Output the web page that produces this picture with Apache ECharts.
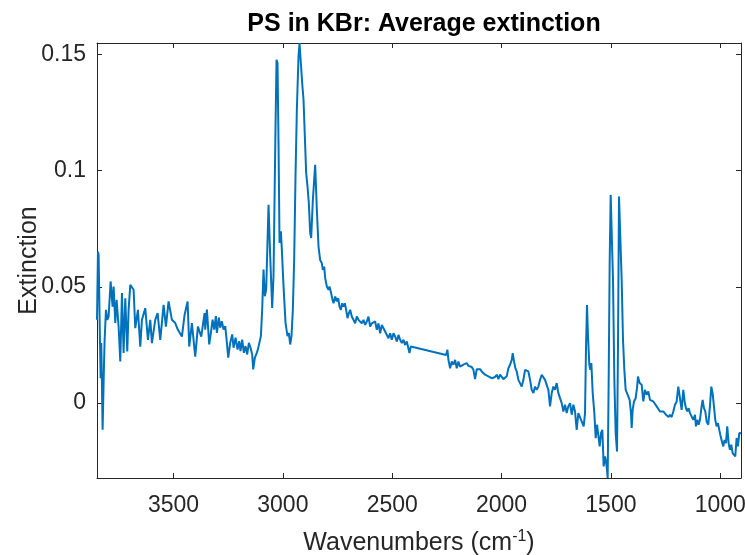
<!DOCTYPE html>
<html>
<head>
<meta charset="utf-8">
<script src="https://cdn.jsdelivr.net/npm/echarts@6/dist/echarts.min.js"></script>
<style>
html,body{margin:0;padding:0;background:#fff;}
#chart{width:745px;height:555px;}
</style>
</head>
<body>
<div id="chart"></div>
<script>
// Wavenumbers (cm^-1), high to low
const wavenumbers = [
3850,3845.6,3842.6,3836.5,3833.4,3830.4,3824.3,3818.2,3815.1,3809.0,3803.0,3796.9,3787.7,3778.6,3774.0,3766.4,3760.3,3751.2,3743.5,3735.9,
3728.3,3720.7,3711.6,3705.5,3697.8,3682.6,3675.0,3662.8,3652.1,3644.5,3629.3,3617.1,3606.4,3598.8,3583.6,3572.9,3560.7,3545.5,3534.8,3522.7,
3507.4,3492.2,3480.0,3461.7,3449.5,3435.8,3428.2,3416.0,3400.8,3388.6,3373.3,3358.1,
3355.0,3347.4,3336.8,3329.1,3321.5,3313.9,3306.3,3301.7,3292.6,3286.5,3278.9,3271.3,3263.6,3256.0,3249.9,3240.8,3231.7,3225.6,3216.4,3207.3,
3199.7,3193.6,3186.0,3178.3,3170.7,3163.1,3155.5,3147.9,3140.3,3135.7,3128.1,3122.0,3114.4,3106.7,3100.6,3094.6,3088.5,3082.4,3076.3,3065.6,
3058.0,3048.9,3042.8,3033.6,3029.0,3024.5,3019.9,3015.3,3009.2,3004.7,2997.0,2987.9,2978.8,2972.7,2966.6,2960.5,2954.4,2948.3,2942.2,2936.1,
2928.5,2923.9,2917.8,2911.7,2905.6,2899.6,2893.5,2887.4,2881.3,2875.2,2870.6,
2862.9,2852.3,2844.6,2837.0,2829.4,2821.8,2817.2,2811.1,2806.5,2798.9,2791.3,2786.7,2780.6,2774.6,2768.5,2760.8,2753.2,2747.1,2741.0,2734.9,
2728.9,2722.8,2716.7,2710.6,2704.5,2698.4,2692.3,2684.7,2677.1,2669.4,2661.8,2654.2,2646.6,2639.0,2631.4,2623.7,2616.1,2608.5,2600.9,2593.3,
2585.6,2578.0,2570.4,2562.8,2555.2,2547.6,2539.9,2532.3,2524.7,2517.1,2509.5,2501.8,2494.2,2486.6,2479.0,2471.4,2463.7,2456.1,2448.5,2440.9,
2433.3,2425.7,2421.1,2415.0,2410.5,
2253.6,2247.5,2242.9,2235.3,2227.7,2220.1,2212.4,2204.8,2197.2,2189.6,2182.0,2174.4,2166.7,2159.1,2151.5,2143.9,2136.3,2128.6,2121.0,2113.4,
2105.8,2098.2,2090.5,2082.9,2075.3,2067.7,2060.1,2052.5,2044.8,2037.2,2029.6,2022.0,2014.4,2006.8,1999.1,1991.5,1983.9,1976.3,1968.7,1961.0,
1953.4,1948.9,1942.8,1936.7,1930.6,1923.0,1915.4,1907.7,1900.1,1892.5,1884.9,1877.3,1869.6,1862.0,1854.4,1846.8,1839.2,1831.6,1823.9,1816.3,
1808.7,1801.1,1793.5,1785.9,1778.3,1770.6,1763.0,1755.4,1747.8,1740.2,1732.5,1724.9,1717.3,1709.7,1702.1,1694.5,1686.8,1679.2,1671.6,1664.0,
1656.4,1648.8,1641.1,
1624.4,1618.3,1613.7,1609.2,1604.6,1598.5,1593.9,1589.3,1583.2,1575.6,1569.5,1563.4,1557.4,1551.3,1545.2,1539.1,1533.0,1526.9,1522.3,1517.8,
1514.7,1510.1,1505.6,1501.0,1494.9,1490.3,1484.2,1478.1,1472.0,1467.5,1462.9,1456.8,1450.7,1444.6,1438.5,1432.4,1426.3,1420.3,1414.2,1408.1,
1405.0,1400.4,1394.3,1386.7,1380.6,1376.1,1368.5,1362.4,
1359.3,1351.7,1344.1,1336.4,1328.8,1321.2,1313.6,1306.0,1298.3,1290.7,1283.1,1275.5,1267.9,1260.3,1252.6,1248.1,1242.0,1235.9,1229.8,1222.2,
1214.6,1206.9,1199.3,1191.7,1184.1,1176.5,1168.9,1162.8,1156.7,1150.6,1144.5,1138.4,1130.8,1123.2,1115.5,1111.0,1104.9,1098.8,1092.7,1085.1,
1080.5,1074.4,1068.3,1062.2,1054.6,1047.0,1040.9,1034.8,1028.7,1022.6,1016.5,1010.4,1004.3,998.2,992.1,986.0,980.0,973.9,967.8,961.7,
955.6,949.5,943.4,937.3,931.2,925.1,919.0,912.9,905
];
// Average extinction at each wavenumber
const extinction = [
0.0358,0.0651,0.0637,0.0272,0.0107,0.0258,-0.0115,0.0157,0.0272,0.0401,0.0358,0.0372,0.0523,0.0415,0.0501,0.0344,0.0444,0.0329,0.0179,0.0473,
0.0215,0.0451,0.0222,0.0401,0.0508,0.0487,0.0322,0.0401,0.0243,0.0358,0.0408,0.0272,0.0358,0.0258,0.0358,0.0387,0.0272,0.0422,0.0329,0.0437,
0.0358,0.0344,0.0315,0.0286,0.0379,0.0437,0.0243,0.0344,0.0200,0.0329,0.0286,0.0387,
0.0316,0.0402,0.0252,0.0302,0.0359,0.0316,0.0374,0.0302,0.0367,0.0324,0.0352,0.0316,0.0331,0.0259,0.0195,0.0259,0.0295,0.0238,0.0281,0.0230,
0.0266,0.0223,0.0273,0.0216,0.0245,0.0209,0.0259,0.0238,0.0209,0.0145,0.0195,0.0209,0.0230,0.0238,0.0288,0.0402,0.0574,0.0459,0.0488,0.0853,
0.0631,0.0409,0.0545,0.1190,0.1476,0.1462,0.1118,0.0689,0.0739,0.0660,0.0503,0.0345,0.0288,0.0302,0.0252,0.0288,0.0402,0.0617,0.0975,0.1261,
0.1490,0.1548,0.1462,0.1376,0.1304,0.1147,0.0989,0.0932,0.0860,0.0732,0.0710,
0.0873,0.1024,0.0830,0.0673,0.0615,0.0601,0.0573,0.0587,0.0537,0.0501,0.0487,0.0501,0.0479,0.0451,0.0429,0.0458,0.0437,0.0451,0.0415,0.0401,
0.0429,0.0415,0.0429,0.0401,0.0365,0.0386,0.0401,0.0372,0.0379,0.0343,0.0372,0.0358,0.0365,0.0343,0.0358,0.0336,0.0351,0.0372,0.0329,0.0343,
0.0336,0.0351,0.0315,0.0343,0.0300,0.0336,0.0343,0.0308,0.0315,0.0279,0.0300,0.0272,0.0300,0.0286,0.0265,0.0293,0.0272,0.0258,0.0272,0.0250,
0.0265,0.0258,0.0215,0.0243,0.0243,
0.0207,0.0229,0.0186,0.0150,0.0179,0.0165,0.0186,0.0150,0.0179,0.0157,0.0150,0.0165,0.0157,0.0172,0.0160,0.0165,0.0155,0.0143,0.0103,0.0146,
0.0150,0.0146,0.0136,0.0143,0.0122,0.0129,0.0115,0.0117,0.0107,0.0115,0.0112,0.0122,0.0103,0.0122,0.0115,0.0103,0.0100,0.0115,0.0150,0.0165,
0.0186,0.0215,0.0179,0.0150,0.0136,0.0100,0.0093,0.0071,0.0100,0.0143,0.0150,0.0136,0.0100,0.0057,0.0043,0.0071,0.0057,0.0071,0.0100,0.0122,
0.0129,0.0100,0.0107,0.0057,-0.0014,0.0043,0.0071,0.0057,0.0086,0.0043,0.0036,0.0000,-0.0036,-0.0007,-0.0043,-0.0014,0.0000,-0.0050,-0.0007,-0.0036,
-0.0115,-0.0043,-0.0036,
-0.0100,-0.0043,0.0243,0.0422,0.0286,0.0164,0.0143,0.0172,0.0043,-0.0043,-0.0151,-0.0093,-0.0086,-0.0186,-0.0129,-0.0115,-0.0272,-0.0229,-0.0251,-0.0287,
-0.0322,0.0100,0.0601,0.0895,0.0888,0.0530,0.0100,-0.0129,-0.0208,0.0243,0.0888,0.0881,0.0530,0.0272,0.0143,0.0057,0.0043,0.0050,0.0014,-0.0043,
-0.0107,-0.0029,0.0007,0.0021,0.0064,0.0114,0.0086,0.0093,
0.0079,0.0007,0.0057,0.0036,0.0050,0.0014,0.0021,0.0007,0.0000,-0.0014,-0.0012,-0.0036,-0.0043,-0.0036,-0.0032,-0.0050,-0.0046,-0.0060,-0.0050,-0.0060,
-0.0036,-0.0007,0.0007,0.0071,0.0021,-0.0029,0.0057,0.0007,-0.0022,-0.0036,-0.0022,-0.0043,-0.0050,-0.0072,-0.0050,-0.0100,-0.0072,-0.0093,-0.0072,-0.0014,
0.0014,-0.0022,-0.0036,-0.0079,-0.0093,-0.0014,0.0071,0.0043,-0.0014,-0.0072,-0.0100,-0.0086,-0.0115,-0.0143,-0.0165,-0.0186,-0.0158,-0.0172,-0.0100,-0.0172,
-0.0201,-0.0179,-0.0215,-0.0222,-0.0229,-0.0150,-0.0186,-0.0129,-0.0130
];
const xRange = [905, 3850];
const yRange = [-0.0322, 0.1548];
const titleText = 'PS in KBr: Average extinction';
const yName = 'Extinction';

const points = wavenumbers.map((w, i) => [w, extinction[i]]);
const FONT = '"Liberation Sans", Arial, Helvetica, sans-serif';
const AX = '#262626';

const chart = echarts.init(document.getElementById('chart'), null, {renderer: 'canvas'});
const baseX = {
  type: 'value', inverse: true, min: xRange[0], max: xRange[1], splitNumber: 5,
  axisLine: {show: true, onZero: false, lineStyle: {color: AX, width: 1}},
  axisTick: {show: true, inside: true, length: 5, lineStyle: {color: AX}},
  splitLine: {show: false}
};
const baseY = {
  type: 'value', min: yRange[0], max: yRange[1], splitNumber: 4,
  axisLine: {show: true, onZero: false, lineStyle: {color: AX, width: 1}},
  axisTick: {show: true, inside: true, length: 5, lineStyle: {color: AX}},
  splitLine: {show: false}
};
chart.setOption({
  animation: false,
  backgroundColor: '#fff',
  title: {
    text: titleText, left: 419, top: 7, textAlign: 'center',
    textStyle: {fontFamily: FONT, fontSize: 25, fontWeight: 'bold', color: '#000'}
  },
  grid: {left: 97, right: 4, top: 43, bottom: 77, containLabel: false, outerBoundsMode: 'none'},
  xAxis: [
    Object.assign({}, baseX, {
      position: 'bottom',
      axisLabel: {show: true, showMinLabel: false, showMaxLabel: false, margin: 16,
        color: AX, fontFamily: FONT, fontSize: 23, formatter: v => String(v)},
      name: 'Wavenumbers (cm{sup|-1})', nameLocation: 'middle', nameGap: 51, nameMoveOverlap: false,
      nameTextStyle: {fontFamily: FONT, fontSize: 25, color: AX,
        rich: {sup: {fontFamily: FONT, fontSize: 16, color: AX, verticalAlign: 'top', padding: [0, 0, 12, 0]}}}
    }),
    Object.assign({}, baseX, {position: 'top', axisLabel: {show: false}})
  ],
  yAxis: [
    Object.assign({}, baseY, {
      position: 'left',
      axisLabel: {show: true, showMinLabel: false, showMaxLabel: false, margin: 11,
        color: AX, fontFamily: FONT, fontSize: 23, formatter: v => String(+v.toFixed(4))},
      name: yName, nameLocation: 'middle', nameGap: 55, nameRotate: 90, nameMoveOverlap: false,
      nameTextStyle: {fontFamily: FONT, fontSize: 25, color: AX}
    }),
    Object.assign({}, baseY, {position: 'right', axisLabel: {show: false}})
  ],
  series: [{
    type: 'line', xAxisIndex: 0, yAxisIndex: 0, data: points,
    showSymbol: false, symbol: 'none',
    lineStyle: {color: '#0072BD', width: 2}, clip: true
  }]
});
</script>
</body>
</html>
